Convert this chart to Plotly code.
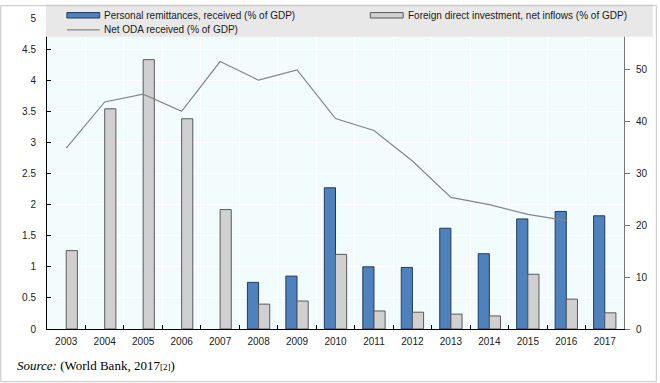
import plotly.graph_objects as go

years = ["2003", "2004", "2005", "2006", "2007", "2008", "2009", "2010",
         "2011", "2012", "2013", "2014", "2015", "2016", "2017"]
remittances = [None, None, None, None, None, 0.75, 0.85, 2.27,
               1.00, 0.99, 1.62, 1.21, 1.77, 1.89, 1.82]
fdi = [1.26, 3.54, 4.33, 3.38, 1.92, 0.40, 0.45, 1.20,
       0.29, 0.27, 0.24, 0.21, 0.88, 0.48, 0.26]
oda = [34.9, 43.8, 45.3, 42.0, 51.6, 48.0, 50.0, 40.6,
       38.3, 32.4, 25.4, 24.0, 22.1, 20.9, None]

left_ticks = [0, 0.5, 1, 1.5, 2, 2.5, 3, 3.5, 4, 4.5, 5]
left_labels = ["0", "0.5", "1", "1.5", "2", "2.5", "3", "3.5", "4", "4.5", "5"]
right_ticks = [0, 10, 20, 30, 40, 50]

names = ["Personal remittances, received (% of GDP)",
         "Foreign direct investment, net inflows (% of GDP)",
         "Net ODA received (% of GDP)"]
source_text = "<i>Source:</i> (World Bank, 2017<span style='font-size:9px'>[2]</span>)"

W, H = 660, 383
L, R, T, B = 47, 33, 13, 54
PW, PH = W - L - R, H - T - B

def px(x):
    return (x - L) / PW

def py(y):
    return (H - B - y) / PH

BLUE = "#4F81BD"
BLUE_LINE = "#23395B"
GRAY = "#D0D0D0"
GRAY_LINE = "#5A5A5A"
LINE = "#858585"
FONT = "Liberation Sans, Arial, sans-serif"

fig = go.Figure()
fig.add_trace(go.Bar(x=years, y=remittances, name=names[0],
                     marker=dict(color=BLUE, line=dict(color=BLUE_LINE, width=1)),
                     showlegend=False))
fig.add_trace(go.Bar(x=years, y=fdi, name=names[1],
                     marker=dict(color=GRAY, line=dict(color=GRAY_LINE, width=1)),
                     showlegend=False))
fig.add_trace(go.Scatter(x=years, y=oda, name=names[2], yaxis="y2", mode="lines",
                         line=dict(color=LINE, width=1.2), showlegend=False))

shapes = [
    # legend band
    dict(type="rect", xref="paper", yref="paper", x0=px(46), x1=px(656),
         y0=py(32), y1=py(-1), fillcolor="#E8E8E8", line=dict(width=0), layer="above"),
    # legend swatches
    dict(type="rect", xref="paper", yref="paper", x0=px(67), x1=px(100),
         y0=py(13), y1=py(7.5), fillcolor=BLUE, line=dict(color=BLUE_LINE, width=1), layer="above"),
    dict(type="rect", xref="paper", yref="paper", x0=px(372), x1=px(405),
         y0=py(13), y1=py(7.5), fillcolor=GRAY, line=dict(color=GRAY_LINE, width=1), layer="above"),
    dict(type="line", xref="paper", yref="paper", x0=px(67), x1=px(100),
         y0=py(25), y1=py(25), line=dict(color=LINE, width=1.2), layer="above"),
    # figure border
    dict(type="rect", xref="paper", yref="paper", x0=px(0.5), x1=px(659.5),
         y0=py(382.5), y1=py(0.5), line=dict(color="#C4C4C4", width=1), layer="above"),
]

annotations = [
    dict(text=names[0], x=px(102), y=py(10.5), xref="paper", yref="paper",
         xanchor="left", yanchor="middle", showarrow=False,
         font=dict(family=FONT, size=10, color="#1a1a1a")),
    dict(text=names[1], x=px(408), y=py(10.5), xref="paper", yref="paper",
         xanchor="left", yanchor="middle", showarrow=False,
         font=dict(family=FONT, size=10, color="#1a1a1a")),
    dict(text=names[2], x=px(102), y=py(25), xref="paper", yref="paper",
         xanchor="left", yanchor="middle", showarrow=False,
         font=dict(family=FONT, size=10, color="#1a1a1a")),
    dict(text=source_text, x=px(15), y=py(366), xref="paper", yref="paper",
         xanchor="left", yanchor="middle", showarrow=False,
         font=dict(family="Liberation Serif, Times New Roman, serif", size=13, color="#000")),
]

fig.update_layout(
    width=W, height=H,
    margin=dict(l=L, r=R, t=T, b=B, pad=0),
    paper_bgcolor="white",
    plot_bgcolor="#F2FCFD",
    barmode="group", bargap=0.42, bargroupgap=0,
    showlegend=False,
    font=dict(family=FONT, size=10, color="#222"),
    xaxis=dict(type="category", tickson="boundaries", ticks="inside", ticklen=4,
               tickcolor="#000", showline=True, linecolor="#000", linewidth=1,
               showgrid=True, gridcolor="white", gridwidth=1,
               tickfont=dict(size=10, color="#222"), ticklabelstandoff=3),
    yaxis=dict(range=[0, 5], tickvals=left_ticks, ticktext=left_labels,
               ticks="inside", ticklen=4, tickcolor="#000",
               showline=True, linecolor="#000", linewidth=1,
               showgrid=True, gridcolor="white", gridwidth=1, zeroline=False,
               tickfont=dict(size=10, color="#222"), ticklabelstandoff=8),
    yaxis2=dict(range=[0, 60], tickvals=right_ticks, overlaying="y", side="right",
                ticks="outside", ticklen=5, tickcolor="#777",
                showline=True, linecolor="#777", linewidth=1,
                showgrid=False, zeroline=False,
                tickfont=dict(size=10, color="#222"), ticklabelstandoff=4),
    shapes=shapes,
    annotations=annotations,
)

fig.write_html("out.html",
               config={"displayModeBar": False},
               post_script="document.body.style.margin='0';document.body.style.overflow='hidden';")
